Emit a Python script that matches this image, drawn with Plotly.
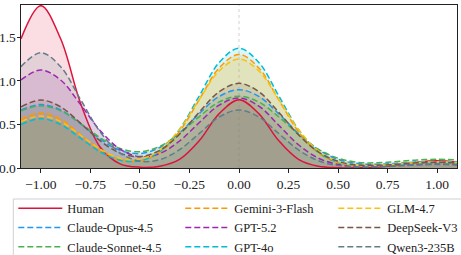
import plotly.graph_objects as go

x_grid = [-1.1, -1.0, -0.9, -0.8, -0.7, -0.6, -0.5, -0.4, -0.3, -0.2, -0.1, 0.0,
          0.1, 0.2, 0.3, 0.4, 0.5, 0.6, 0.7, 0.8, 0.9, 1.0, 1.1]

human = [1.485, 1.865, 1.485, 0.748, 0.239, 0.048, 0.009, 0.021, 0.100, 0.315, 0.625, 0.785,
         0.625, 0.315, 0.100, 0.020, 0.003, 0.002, 0.011, 0.034, 0.067, 0.084, 0.067]
claude_opus = [0.666, 0.730, 0.667, 0.509, 0.331, 0.203, 0.166, 0.236, 0.404, 0.627, 0.822, 0.900,
               0.822, 0.625, 0.397, 0.212, 0.100, 0.051, 0.043, 0.055, 0.069, 0.075, 0.069]
claude_sonnet = [0.657, 0.715, 0.658, 0.514, 0.347, 0.224, 0.186, 0.248, 0.397, 0.591, 0.759, 0.825,
                 0.758, 0.589, 0.387, 0.218, 0.112, 0.065, 0.060, 0.075, 0.093, 0.100, 0.092]
gemini = [0.560, 0.636, 0.560, 0.384, 0.207, 0.098, 0.082, 0.180, 0.420, 0.787, 1.150, 1.305,
          1.150, 0.787, 0.419, 0.174, 0.058, 0.022, 0.024, 0.040, 0.057, 0.065, 0.057]
gpt52 = [1.011, 1.126, 1.011, 0.731, 0.429, 0.216, 0.129, 0.166, 0.310, 0.523, 0.723, 0.805,
         0.712, 0.493, 0.267, 0.114, 0.040, 0.016, 0.017, 0.028, 0.040, 0.045, 0.040]
gpt4o = [0.500, 0.567, 0.500, 0.343, 0.185, 0.090, 0.083, 0.189, 0.444, 0.831, 1.213, 1.376,
         1.213, 0.831, 0.443, 0.184, 0.062, 0.023, 0.022, 0.037, 0.053, 0.060, 0.053]
glm = [0.533, 0.598, 0.533, 0.377, 0.215, 0.113, 0.102, 0.205, 0.444, 0.789, 1.116, 1.253,
       1.116, 0.788, 0.442, 0.197, 0.073, 0.030, 0.029, 0.045, 0.062, 0.070, 0.062]
deepseek = [0.703, 0.780, 0.703, 0.516, 0.312, 0.171, 0.131, 0.203, 0.387, 0.643, 0.877, 0.973,
            0.877, 0.642, 0.382, 0.186, 0.077, 0.036, 0.032, 0.044, 0.059, 0.065, 0.059]
qwen = [1.164, 1.325, 1.164, 0.789, 0.413, 0.172, 0.078, 0.096, 0.210, 0.397, 0.586, 0.667,
        0.586, 0.397, 0.208, 0.084, 0.028, 0.011, 0.014, 0.024, 0.035, 0.040, 0.035]

names = ["Human", "Claude-Opus-4.5", "Claude-Sonnet-4.5", "Gemini-3-Flash", "GPT-5.2",
         "GPT-4o", "GLM-4.7", "DeepSeek-V3", "Qwen3-235B"]
series = [human, claude_opus, claude_sonnet, gemini, gpt52, gpt4o, glm, deepseek, qwen]
colors = ["#DC143C", "#2196F3", "#4CAF50", "#FF9800", "#9C27B0",
          "#00BCD4", "#FFC107", "#795548", "#607D8B"]
legend_ids = ["legend", "legend", "legend", "legend2", "legend2", "legend2",
              "legend3", "legend3", "legend3"]

def rgba(h, a):
    h = h.lstrip("#")
    return "rgba(%d,%d,%d,%.2f)" % (int(h[0:2], 16), int(h[2:4], 16), int(h[4:6], 16), a)

fig = go.Figure()
# shaded areas first
for n, s, c in zip(names, series, colors):
    fig.add_trace(go.Scatter(
        x=x_grid, y=s, name=n, mode="lines", showlegend=False, hoverinfo="skip",
        line=dict(width=0, shape="spline", smoothing=1.0),
        fill="tozeroy", fillcolor=rgba(c, 0.14),
    ))
# curves on top
for i, (n, s, c, lg) in enumerate(zip(names, series, colors, legend_ids)):
    fig.add_trace(go.Scatter(
        x=x_grid, y=s, name=n, mode="lines",
        line=dict(color=c, width=1.5, dash="solid" if i == 0 else "6px,3px",
                  shape="spline", smoothing=1.0),
        legend=lg,
    ))

W, H = 461, 255
ml, mr, mt, mb = 20.7, 4.3, 5, 87
pw, ph = W - ml - mr, H - mt - mb

def px_x(p):
    return (p - ml) / pw

def px_y(p):
    return (H - mb - p) / ph

leg_common = dict(orientation="v", bgcolor="rgba(0,0,0,0)", borderwidth=0,
                  font=dict(family="Liberation Serif", size=12.5, color="#222"),
                  xanchor="left", yanchor="top", itemwidth=44, tracegroupgap=0)
leg_top = px_y(193.5)
fig.update_layout(
    width=W, height=H,
    margin=dict(l=ml, r=mr, t=mt, b=mb, autoexpand=False),
    paper_bgcolor="white", plot_bgcolor="white",
    font=dict(family="Liberation Serif", size=13.5, color="#222"),
    showlegend=True,
    legend=dict(x=px_x(13), y=leg_top, **leg_common),
    legend2=dict(x=px_x(180), y=leg_top, **leg_common),
    legend3=dict(x=px_x(333), y=leg_top, **leg_common),
    xaxis=dict(range=[-1.1, 1.1], tickvals=[-1.0, -0.75, -0.5, -0.25, 0.0, 0.25, 0.5, 0.75, 1.0],
               tickformat=".2f", showgrid=False, zeroline=False, automargin=False,
               showline=True, linecolor="#222", linewidth=1, mirror=True,
               ticks="outside", ticklen=3.5, tickcolor="#222"),
    yaxis=dict(range=[0, 1.873], tickvals=[0.0, 0.5, 1.0, 1.5], tickformat=".1f",
               showgrid=False, zeroline=False, automargin=False,
               showline=True, linecolor="#222", linewidth=1, mirror=True,
               ticks="outside", ticklen=3.5, tickcolor="#222", ticklabelstandoff=-2),
    shapes=[
        dict(type="line", xref="x", yref="paper", x0=0, x1=0, y0=0, y1=1,
             line=dict(color="#c8c8c8", width=0.8, dash="dot"), layer="below"),
        dict(type="rect", xref="paper", yref="paper",
             x0=px_x(13), x1=px_x(462), y0=px_y(199), y1=px_y(262),
             line=dict(color="#d0d0d0", width=1)),
    ],
)

fig.write_html("out.html", config={"displayModeBar": False},
               post_script="document.body.style.margin='0';document.body.style.overflow='hidden';")
